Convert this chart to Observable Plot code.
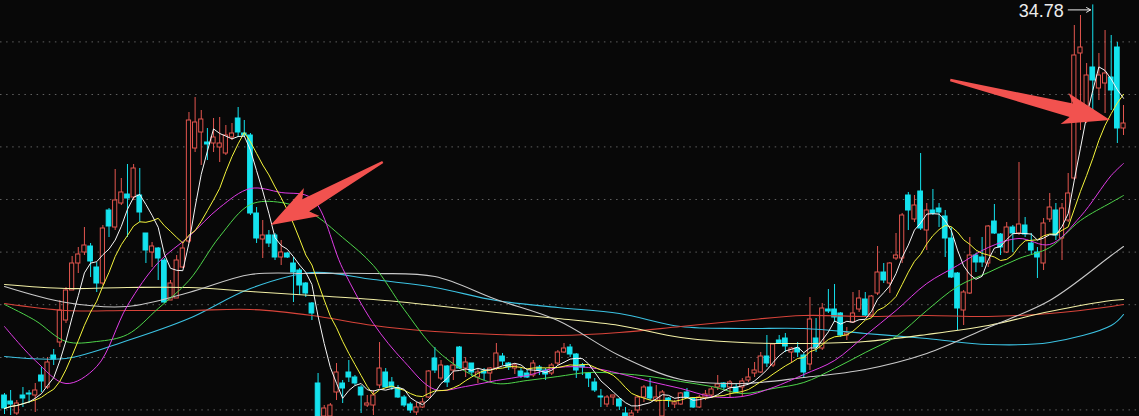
<!DOCTYPE html>
<html><head><meta charset="utf-8">
<script src="https://cdn.jsdelivr.net/npm/d3@7"></script>
<script src="https://cdn.jsdelivr.net/npm/@observablehq/plot@0.6"></script>
<style>html,body{margin:0;padding:0;background:#080808;overflow:hidden}</style>
</head><body><div id="chart"></div>
<script>
// ---- daily candles (index 0..182) ----
const open = [15.25,14.95,14.35,15.25,15.35,15.25,16.25,15.65,17.25,17.90,
19.00,20.50,21.85,22.40,22.70,21.65,20.85,24.50,23.65,24.85,
25.30,25.15,25.25,23.35,22.40,22.60,22.00,20.00,20.10,21.65,
22.95,27.60,28.40,27.90,27.85,27.65,27.35,28.15,29.10,28.35,
28.25,24.35,23.05,23.25,23.25,22.15,22.35,21.85,21.50,20.85,
19.85,15.85,14.20,14.20,15.40,15.85,16.40,16.15,15.65,14.75,
14.75,15.75,16.40,15.90,15.60,15.15,14.80,14.40,14.65,15.15,
17.10,16.10,16.70,16.50,17.65,16.60,16.85,16.15,16.45,16.35,
16.60,17.20,16.85,16.60,16.45,16.35,16.25,16.65,16.50,16.35,
16.85,17.40,17.65,17.30,16.75,16.35,15.90,15.20,14.80,15.15,
15.05,14.35,14.20,14.50,15.15,15.65,15.00,14.20,15.10,14.80,
14.80,15.40,15.10,14.65,15.15,15.25,15.65,15.85,15.65,15.65,
15.65,16.00,16.35,16.40,17.20,16.75,18.00,18.10,17.40,17.60,
17.25,16.80,18.10,17.60,19.55,19.55,19.35,18.25,18.90,19.55,
20.05,19.25,20.35,21.40,20.85,22.10,22.10,25.25,24.05,25.45,
23.50,24.50,24.60,24.20,23.10,21.35,19.50,20.35,22.25,22.15,
21.85,23.95,23.30,22.40,23.65,23.35,23.75,22.85,22.40,21.85,
24.05,24.50,23.10,24.00,26.10,32.35,29.50,31.65,30.60,30.85,
31.15,32.65,28.60];
const high = [15.35,15.50,15.00,15.65,15.50,15.85,16.65,17.15,17.55,20.00,
20.65,22.20,22.65,23.65,22.85,21.90,23.75,24.60,26.55,26.10,
26.80,26.80,26.60,23.35,22.90,22.65,22.10,21.00,22.25,22.90,
29.40,30.15,29.50,28.60,29.10,29.15,28.75,28.85,29.65,29.00,
28.35,24.65,24.00,23.50,23.35,23.00,22.40,22.15,21.60,20.90,
19.90,16.35,14.75,14.85,16.85,16.00,17.00,16.25,15.75,15.25,
15.50,17.90,16.60,16.15,15.75,15.25,14.90,14.90,15.10,16.50,
17.65,17.00,16.75,17.15,17.70,17.15,16.85,16.60,16.60,16.65,
17.85,17.35,16.90,16.85,16.60,16.50,17.00,16.75,16.60,16.85,
17.50,17.85,17.80,17.35,16.85,16.40,16.10,15.55,15.25,15.25,
15.10,14.65,14.50,15.25,15.75,16.10,15.75,15.50,15.15,15.00,
15.40,15.60,15.15,15.25,15.50,15.65,16.25,15.90,16.00,15.85,
16.10,16.60,16.90,17.40,18.25,17.85,18.25,18.35,17.65,17.90,
17.35,20.15,19.10,19.85,20.55,20.80,19.40,18.65,20.40,20.50,
20.40,20.25,22.70,21.85,21.90,23.35,24.35,25.40,25.25,27.35,
24.85,25.55,24.85,24.50,23.65,21.40,20.50,23.15,22.35,23.15,
23.75,24.80,23.35,23.90,23.75,26.90,24.15,23.35,22.65,24.10,
25.35,24.85,24.85,26.35,33.75,34.25,31.85,34.78,32.35,33.50,
33.25,32.90,29.75];
const low = [14.30,14.25,14.25,14.65,14.85,14.40,15.40,15.55,16.75,17.65,
18.85,20.50,21.35,22.25,21.15,20.40,20.75,23.15,23.50,24.75,
23.15,25.00,23.90,21.85,21.65,21.00,19.85,20.00,20.10,21.60,
22.85,27.40,26.75,27.00,27.40,26.90,27.25,28.00,28.15,28.15,
24.25,22.85,22.10,22.65,22.00,21.75,22.10,19.90,20.25,20.15,
19.00,14.10,14.10,14.10,15.00,14.85,15.90,15.75,14.35,14.65,
14.25,15.60,15.60,15.50,15.10,14.65,14.35,14.25,14.60,15.10,
16.35,16.00,15.65,16.00,16.55,16.15,16.20,15.85,16.00,15.90,
16.50,16.75,16.50,16.30,16.10,16.10,16.15,16.25,16.00,16.25,
16.75,17.35,17.15,16.10,16.25,15.65,15.40,14.65,14.65,14.75,
14.50,14.10,14.10,14.35,14.90,15.00,14.90,14.10,14.65,14.60,
14.75,15.10,14.60,14.60,15.00,15.10,15.50,15.50,15.15,15.35,
15.15,15.90,16.15,16.35,16.65,16.65,17.80,17.40,16.85,17.15,
16.15,16.50,17.40,17.50,19.35,18.90,18.15,18.00,18.85,19.40,
19.15,19.15,20.25,20.85,20.35,22.00,21.85,23.50,23.90,23.50,
22.50,24.25,23.65,22.15,21.10,18.50,18.75,20.30,21.40,21.65,
21.65,23.30,22.25,22.35,22.40,23.25,23.15,22.30,21.10,21.50,
23.90,23.00,22.00,23.90,26.00,28.50,28.85,29.25,30.00,29.35,
29.50,27.85,28.25];
const close = [14.60,14.80,14.85,15.10,15.30,15.50,15.95,16.90,17.05,19.50,
20.50,21.85,22.30,22.75,21.95,20.85,23.60,23.70,25.00,25.40,
25.10,26.60,24.40,22.50,22.70,22.10,19.90,20.85,22.00,22.60,
29.00,28.90,29.05,27.80,28.15,27.85,28.25,28.35,28.40,28.25,
24.35,23.10,23.25,22.85,22.15,22.40,22.15,21.40,20.75,20.35,
19.35,14.20,14.60,14.75,16.40,15.60,16.15,15.85,15.25,14.85,
15.25,16.60,15.65,15.65,15.15,14.75,14.50,14.65,14.90,16.45,
16.50,16.75,15.90,16.75,16.60,16.90,16.40,16.40,16.35,16.60,
17.35,16.95,16.65,16.75,16.20,16.15,16.85,16.50,16.30,16.75,
17.40,17.60,17.30,16.50,16.65,16.10,15.50,15.15,15.15,15.25,
14.70,14.20,14.35,15.15,15.65,15.10,15.15,15.40,15.00,14.90,
15.35,15.15,14.65,15.15,15.30,15.55,15.80,15.65,15.90,15.40,
15.95,16.15,16.50,17.20,16.85,17.80,17.85,17.70,17.60,17.40,
16.40,19.05,17.65,19.60,19.45,19.15,18.25,18.35,19.35,20.10,
19.25,20.20,21.40,21.00,21.85,22.25,24.25,24.50,24.75,23.60,
24.50,24.35,24.40,23.10,21.15,19.60,20.40,22.25,21.90,21.90,
23.70,23.35,22.65,23.65,23.35,23.80,23.30,22.50,22.15,23.85,
24.65,23.25,24.60,25.35,32.25,32.65,31.25,31.00,31.25,31.35,
30.50,28.60,28.85];

// ---- moving averages ----
const maIdxA = [0,5,10,15,20,25,30,35,40,45,50,55,60,65,70,75,80,85,90,95,100,105,110,115,120,125,130,135,140,145,150,155,160,165,170,175,180,182];
const ma20 = [18.70,17.00,15.85,16.70,19.75,21.90,23.20,24.65,25.60,25.40,25.10,21.60,18.85,16.95,15.55,15.70,16.00,16.25,16.65,16.65,16.35,15.95,15.60,15.20,15.20,15.65,16.30,17.00,18.25,19.50,20.85,21.75,22.65,23.10,22.80,24.20,26.25,26.85];
const ma30 = [19.80,19.00,17.95,17.95,18.30,19.60,21.00,23.20,24.80,24.90,24.35,23.15,21.75,19.55,17.60,16.45,15.85,16.00,16.20,16.40,16.35,16.20,15.95,15.70,15.35,15.60,15.90,16.60,17.40,18.20,19.50,20.70,21.40,22.10,22.65,24.00,24.90,25.25];
const maIdxB = [0,10,20,30,40,50,60,70,80,90,100,110,120,130,140,150,160,170,180,182];
const ma60 = [20.70,19.90,19.70,20.40,21.30,21.35,21.35,21.20,20.05,19.00,17.25,16.05,15.85,16.15,16.55,17.35,18.65,20.00,22.25,22.70];
const maCream = [20.80,20.60,20.65,20.65,20.45,20.25,20.05,19.75,19.40,19.10,18.75,18.15,17.90,17.85,17.95,18.30,18.75,19.45,20.00,20.05];
const maRed = [19.85,19.50,19.50,19.50,19.55,19.25,18.75,18.45,18.30,18.25,18.40,18.70,19.00,19.25,19.20,19.25,19.20,19.35,19.70,19.80];
const maCyan = [17.20,17.10,18.00,19.10,20.60,21.40,21.05,20.65,20.00,19.65,19.35,18.70,18.60,18.60,18.35,18.10,17.80,17.90,18.75,19.30];

const gridLevels = [32.93,30.30,27.68,25.05,22.42,19.79,17.15,14.53];

// ---- annotation arrows (tail -> tip, in index / price) ----
const arrowFromX = [61.6, 153.9];
const arrowFromY = [26.90, 31.00];
const arrowToX = [43.4, 179.9];
const arrowToY = [23.75, 29.00];

const UP = "#e3564f", DOWN = "#14e2ee", BG = "#080808";

const candles = open.map((o, i) => ({i, o, h: high[i], l: low[i], c: close[i], up: close[i] >= o}));
const ups = candles.filter(d => d.up), downs = candles.filter(d => !d.up);
const series = (idx, vals) => idx.map((i, k) => ({i, v: vals[k]}));

const hiIdx = d3.maxIndex(high);

function arrowsMark(index, scales) {
  const ns = "http://www.w3.org/2000/svg";
  const g = document.createElementNS(ns, "g");
  for (let k = 0; k < arrowFromX.length; k++) {
    const tx = scales.x(arrowFromX[k]), ty = scales.y(arrowFromY[k]);
    const px = scales.x(arrowToX[k]), py = scales.y(arrowToY[k]);
    const dx = px - tx, dy = py - ty, L = Math.hypot(dx, dy);
    const ux = dx / L, uy = dy / L, nx = -uy, ny = ux;
    const headLen = 40, headW = 16, shaftW = 7, tailW = 1.2, sweep = 7;
    const bx = px - ux * headLen, by = py - uy * headLen;
    const pts = [
      [tx + nx * tailW, ty + ny * tailW],
      [bx + nx * shaftW, by + ny * shaftW],
      [bx - ux * sweep + nx * headW, by - uy * sweep + ny * headW],
      [px, py],
      [bx - ux * sweep - nx * headW, by - uy * sweep - ny * headW],
      [bx - nx * shaftW, by - ny * shaftW],
      [tx - nx * tailW, ty - ny * tailW]
    ];
    const p = document.createElementNS(ns, "path");
    p.setAttribute("d", "M" + pts.map(q => q[0].toFixed(1) + "," + q[1].toFixed(1)).join("L") + "Z");
    p.setAttribute("fill", "#f2524f");
    g.appendChild(p);
  }
  return g;
}

const chart = Plot.plot({
  width: 1139,
  height: 416,
  margin: 0,
  style: {background: BG, overflow: "hidden"},
  x: {type: "linear", domain: [-0.651, 184.6], axis: null},
  y: {domain: [14.2, 35.0], axis: null},
  marks: [
    Plot.ruleY(gridLevels, {stroke: "#606060", strokeWidth: 1, strokeDasharray: "1.5,4.6"}),
    // wicks
    Plot.ruleX(ups, {x: "i", y1: "l", y2: "h", stroke: UP, strokeWidth: 1}),
    Plot.ruleX(downs, {x: "i", y1: "l", y2: "h", stroke: DOWN, strokeWidth: 1}),
    // bodies
    Plot.rect(ups, {x1: d => d.i - 0.34, x2: d => d.i + 0.34, y1: "o", y2: "c", fill: BG, stroke: UP, strokeWidth: 1}),
    Plot.rect(downs, {x1: d => d.i - 0.38, x2: d => d.i + 0.38, y1: "o", y2: "c", fill: DOWN, stroke: DOWN, strokeWidth: 1}),
    // long moving averages
    Plot.line(series(maIdxB, maCyan), {x: "i", y: "v", stroke: "#3cc2e2", strokeWidth: 1.1, curve: "catmull-rom"}),
    Plot.line(series(maIdxB, maRed), {x: "i", y: "v", stroke: "#d8443a", strokeWidth: 1.1, curve: "catmull-rom"}),
    Plot.line(series(maIdxB, maCream), {x: "i", y: "v", stroke: "#f3f0a6", strokeWidth: 1.1, curve: "catmull-rom"}),
    Plot.line(series(maIdxB, ma60), {x: "i", y: "v", stroke: "#c9c9c9", strokeWidth: 1.1, curve: "catmull-rom"}),
    Plot.line(series(maIdxA, ma30), {x: "i", y: "v", stroke: "#4ed44a", strokeWidth: 1, curve: "catmull-rom"}),
    Plot.line(series(maIdxA, ma20), {x: "i", y: "v", stroke: "#e03ce6", strokeWidth: 1, curve: "catmull-rom"}),
    // short moving averages from closes
    Plot.line(candles, Plot.windowY({k: 10, anchor: "end", reduce: "mean"}, {x: "i", y: "c", stroke: "#f5f53c", strokeWidth: 1})),
    Plot.line(candles, Plot.windowY({k: 5, anchor: "end", reduce: "mean"}, {x: "i", y: "c", stroke: "#f6f6f6", strokeWidth: 1})),
    // max label with its pointer arrow
    Plot.text([hiIdx], {x: d => d, y: d => high[d], text: d => high[d].toFixed(2), textAnchor: "end", dx: -29, dy: 6, fill: "#ececec", fontSize: 18, fontFamily: "Liberation Sans, Arial, sans-serif"}),
    Plot.arrow([hiIdx], {x1: d => d - 4.0, x2: d => d - 0.35, y1: d => high[d], y2: d => high[d], dy: 5, stroke: "#ececec", strokeWidth: 1, headLength: 7}),
    arrowsMark
  ]
});
document.getElementById("chart").appendChild(chart);
</script>
</body></html>
